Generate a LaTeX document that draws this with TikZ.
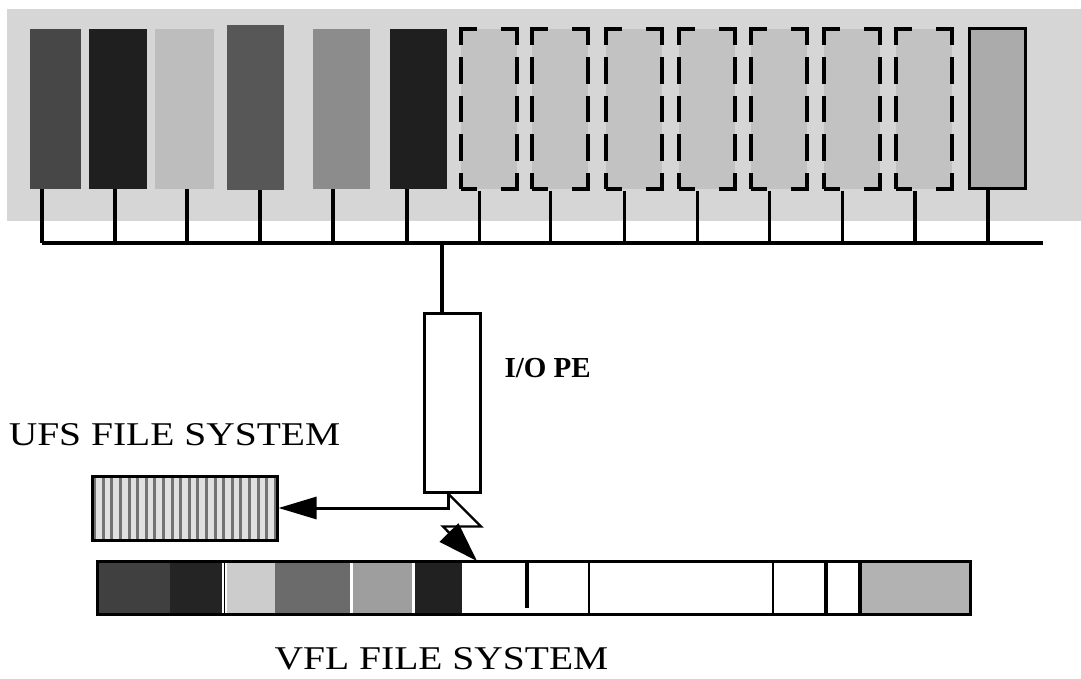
\documentclass[tikz,border=0pt]{standalone}
\usepackage{fontspec}
\setmainfont{Liberation Serif}
\newfontfamily\capfont[FakeStretch=1.19]{Liberation Serif}
\usetikzlibrary{positioning,arrows.meta,patterns.meta,calc}

\begin{document}
\begin{tikzpicture}[x=0.5pt, y=-0.5pt,
  wire/.style={line width=1.6pt},
  card/.style={minimum width=28pt, minimum height=80pt, inner sep=0pt},
  board/.style={card, fill=#1},
  spare/.style={card, fill=black!24, draw, line width=2pt,
    dash pattern=on 16pt off 12pt on 16pt off 6pt on 13.33pt off 6pt on 13.33pt off 6pt on 13.33pt off 6pt,
    dash phase=8pt},
  pe/.style={draw, line width=1.5pt, fill=white, minimum width=28pt, minimum height=89.5pt, inner sep=0pt},
  disk/.style={draw, line width=1.5pt, minimum width=92.5pt, minimum height=32pt, inner sep=0pt,
    preaction={fill=black!12}, pattern={Lines[angle=90, distance=4.3pt, line width=1.5pt]}, pattern color=black!55},
  bar/.style={draw, line width=1.5pt, minimum width=436.5pt, minimum height=26.5pt, inner sep=0pt},
  lbl/.style={font=\capfont\fontsize{16.6}{18}\selectfont, inner sep=0pt, text depth=0pt},
  feed/.style={line width=1.5pt, -{Triangle[length=19pt, width=11pt]}},
  bolt/.style={line width=1.2pt, line join=miter, -{Triangle[length=20pt, width=13pt]}}]
\useasboundingbox (0,0) rectangle (1081,679);
\fill[black!16] (7,9) rectangle (1081,221);
\node[board=black!72, minimum width=25.5pt] (c1) at (55.5,109) {};
\node[board=black!88, minimum width=29pt] (c2) at (118,109) {};
\node[board=black!26, minimum width=29.5pt] (c3) at (184.5,109) {};
\node[board=black!66, minimum width=28.5pt, minimum height=82.5pt] (c4) at (255.5,107.5) {};
\node[board=black!45, minimum width=28.5pt] (c5) at (341.5,109) {};
\node[board=black!88, minimum width=28.5pt] (c6) at (418.5,109) {};
\foreach \cx [count=\i] in {488.5,559.5,633.5,706.5,778.5,851.5,924}
  \node[spare] (d\i) at (\cx,109) {};
\node[board=black!33, draw, line width=1.5pt] (c7) at (997,109) {};
\coordinate (busl) at (42,243);
\coordinate (busr) at (1043,243);
\draw[wire] (busl) -- (busr);
\foreach \n/\dx in {1/-6.75,2/-1.5,3/1.25,4/2.25,5/-4.25,6/-5.75,7/-4.5}
  \draw[wire] ([xshift=\dx pt]c\n.south) -- ([xshift=\dx pt]c\n.south |- busl);
\foreach \i in {1,...,7}
  \draw[wire] ([xshift=-4.5pt]d\i.south) -- ([xshift=-4.5pt]d\i.south |- busl);
\node[pe] (io) at (452,402.5) {};
\node[right=8pt of io, yshift=17pt, font=\bfseries\fontsize{14.5}{16}\selectfont] (iolbl) {I/O PE};
\draw[wire] ([xshift=-5pt]io.north) -- ([xshift=-5pt]io.north |- busl);
\node[disk] (ufs) at (184.5,508) {};
\node[lbl, above=14.5pt of ufs, xshift=-5pt] (ufslbl) {UFS FILE SYSTEM};
\fill[black!75] (97,561) rectangle (170,614);
\fill[black!86] (170,561) rectangle (222,614);
\fill[black!20] (227,561) rectangle (275,614);
\fill[black!58] (275,561) rectangle (350,614);
\fill[black!38] (353,561) rectangle (412,614);
\fill[black!87] (415,561) rectangle (462,614);
\fill[black!30] (860,561) rectangle (970,614);
\draw[line width=0.8pt] (224.5,561) -- (224.5,614);
\draw[wire] (527,561) -- (527,608);
\draw[line width=1.2pt] (589,561) -- (589,614);
\draw[line width=1.2pt] (773,561) -- (773,614);
\draw[wire] (826,561) -- (826,614);
\draw[wire] (860,561) -- (860,614);
\node[bar] (vfl) at (533.5,587.5) {};
\node[lbl, below=16pt of vfl, xshift=-46pt] (vfllbl) {VFL FILE SYSTEM};
\coordinate (hit) at (477,561);
\draw[feed] ([xshift=-2pt]io.south) |- (ufs.east);
\draw[bolt] ([xshift=-2pt]io.south) -- ++(33,33) -- ++(-38,0) -- (hit);
\end{tikzpicture}
\end{document}
